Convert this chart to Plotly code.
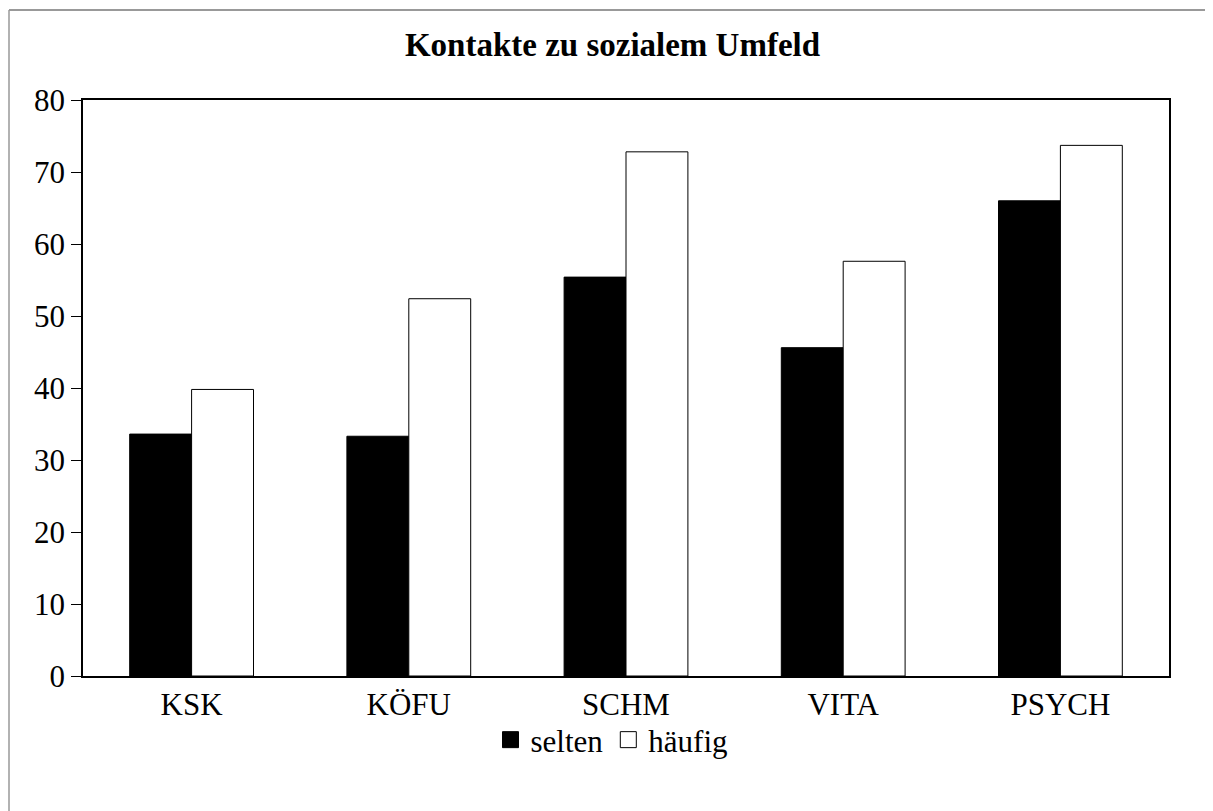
import plotly.graph_objects as go

categories = ["KSK", "KÖFU", "SCHM", "VITA", "PSYCH"]
selten = [33.6, 33.3, 55.4, 45.6, 66.0]
haeufig = [39.8, 52.4, 72.8, 57.6, 73.7]
series_names = ["selten", "häufig"]
y_ticks = [0, 10, 20, 30, 40, 50, 60, 70, 80]

FONT = "Liberation Serif, Times New Roman, serif"

fig = go.Figure()
fig.add_trace(go.Bar(x=categories, y=selten, name=series_names[0],
                     marker=dict(color="black", line=dict(color="black", width=1)),
                     showlegend=False))
fig.add_trace(go.Bar(x=categories, y=haeufig, name=series_names[1],
                     marker=dict(color="white", line=dict(color="black", width=1)),
                     showlegend=False))
# legend entries
fig.add_trace(go.Scatter(x=[None], y=[None], mode="markers", name=series_names[0],
                         marker=dict(symbol="square", size=16, color="black",
                                     line=dict(color="black", width=1))))
fig.add_trace(go.Scatter(x=[None], y=[None], mode="markers", name=series_names[1],
                         marker=dict(symbol="square", size=16, color="white",
                                     line=dict(color="black", width=1))))

# page is offset by the 8px body margin
OFF = 8
W, H = 1205, 803
L, R, T, B = 75, 44, 92, 135
pw, ph = W - L - R, H - T - B

fig.update_layout(
    width=W, height=H,
    margin=dict(l=L, r=R, t=T, b=B),
    paper_bgcolor="white", plot_bgcolor="white",
    font=dict(family=FONT, size=31, color="black"),
    title=dict(text="<b>Kontakte zu sozialem Umfeld</b>", x=(612.5 - OFF) / W, xanchor="center",
               y=(H - (44 - OFF)) / H, yanchor="middle", font=dict(family=FONT, size=33, color="black")),
    barmode="group", bargap=0.43, bargroupgap=0,
    legend=dict(orientation="h", x=(612 - OFF - L) / pw, xanchor="center",
                y=-((740 - OFF) - (H - B)) / ph, yanchor="middle",
                font=dict(family=FONT, size=31, color="black"),
                itemsizing="trace", bgcolor="rgba(0,0,0,0)"),
    showlegend=True,
)
fig.update_xaxes(type="category", showline=True, linecolor="black", linewidth=1.5, mirror=True,
                 ticks="", showgrid=False, tickfont=dict(family=FONT, size=31, color="black"))
fig.update_yaxes(range=[0, 80], tickvals=y_ticks, showline=True, linecolor="black", linewidth=1.5,
                 mirror=True, ticks="outside", ticklen=10, tickcolor="black", tickwidth=1,
                 showgrid=False, zeroline=False, tickfont=dict(family=FONT, size=31, color="black"))

# outer frame (grey border around chart area)
fx = (8 - OFF - L) / pw + 1 / pw
fy = 1 + (T - (10 - OFF)) / ph
fig.add_shape(type="line", xref="paper", yref="paper", x0=fx, x1=1.2, y0=fy, y1=fy,
              line=dict(color="#999999", width=2))
fig.add_shape(type="line", xref="paper", yref="paper", x0=fx, x1=fx, y0=fy, y1=-0.5,
              line=dict(color="#999999", width=1.5))

fig.write_html("out.html")
